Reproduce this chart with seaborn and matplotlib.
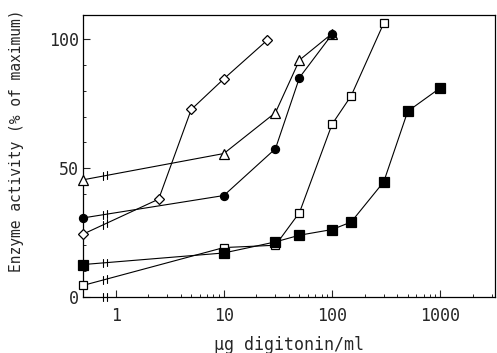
import numpy as np
import pandas as pd
import matplotlib
matplotlib.use("Agg")
import matplotlib.pyplot as plt
from matplotlib.ticker import FixedLocator, NullFormatter
import seaborn as sns

# ---- data (x = 0 means "no digitonin", drawn at the left edge) ----
diamond_x = [0, 2.5, 5, 10, 25]
diamond_y = [24.4, 38, 72.8, 84.7, 99.6]

triangle_x = [0, 10, 30, 50, 100]
triangle_y = [45.5, 55.7, 71.6, 92, 102.3]

circle_x = [0, 10, 30, 50, 100]
circle_y = [30.7, 39.4, 57.6, 85.2, 102]

osq_x = [0, 10, 30, 50, 100, 150, 300]
osq_y = [4.5, 19.2, 20.1, 32.8, 67.1, 78.1, 106.3]

fsq_x = [0, 10, 30, 50, 100, 150, 300, 500, 1000]
fsq_y = [12.6, 17.1, 21.4, 24.0, 26.2, 29.1, 44.7, 72.1, 81.2]

x_ticks = [1, 10, 100, 1000]
x_ticklabels = ["1", "10", "100", "1000"]
y_ticks = [0, 50, 100]
y_ticklabels = ["0", "50", "100"]

series = [
    ("diamond", diamond_x, diamond_y, "D", "white", 4.8),
    ("triangle", triangle_x, triangle_y, "^", "white", 6.5),
    ("circle", circle_x, circle_y, "o", "black", 5.8),
    ("open square", osq_x, osq_y, "s", "white", 6.2),
    ("filled square", fsq_x, fsq_y, "s", "black", 6.5),
]

X_ZERO = 0.5      # where x=0 is drawn
BREAKS = [0.76, 0.84]

sns.set_style("ticks")
mono = "DejaVu Sans Mono"
plt.rcParams["font.family"] = [mono, "DejaVu Sans"]

fig = plt.figure(figsize=(4.97, 3.53), dpi=100)
ax = fig.add_axes([0.167, 0.1586, 0.829, 0.799])
ax.set_xscale("log")
ax.set_xlim(X_ZERO, 3200)
ax.set_ylim(0, 109.5)

for name, xs, ys, mk, fc, ms in series:
    xd = [X_ZERO if v == 0 else v for v in xs]
    df = pd.DataFrame({"x": xd, "y": ys})
    sns.lineplot(data=df, x="x", y="y", ax=ax, sort=False, estimator=None,
                 color="black", lw=0.8, marker=mk, markersize=ms,
                 markerfacecolor=fc, markeredgecolor="black",
                 markeredgewidth=0.9, clip_on=False, zorder=3)
    # axis-break marks on the segment from the zero point
    lx0, lx1 = np.log10(xd[0]), np.log10(xd[1])
    for b in BREAKS:
        t = (np.log10(b) - lx0) / (lx1 - lx0)
        yb = ys[0] + t * (ys[1] - ys[0])
        ax.plot([b, b], [yb - 1.5, yb + 1.5], color="black", lw=0.8, zorder=4)

# breaks on the x axis
for b in BREAKS:
    ax.plot([b, b], [-1.5, 1.5], color="black", lw=0.8, clip_on=False, zorder=4)

ax.xaxis.set_major_locator(FixedLocator(x_ticks))
ax.set_xticklabels(x_ticklabels)
minors = [m * 10.0 ** e for e in range(0, 4) for m in range(2, 10)]
ax.xaxis.set_minor_locator(FixedLocator(minors))
ax.xaxis.set_minor_formatter(NullFormatter())
ax.yaxis.set_major_locator(FixedLocator(y_ticks))
ax.set_yticklabels(y_ticklabels)
ax.yaxis.set_minor_locator(FixedLocator(list(range(10, 110, 10))))

ax.tick_params(axis="both", which="major", direction="in", length=5, width=0.8,
               labelsize=12, top=False, right=False)
ax.tick_params(axis="both", which="minor", direction="in", length=2.5, width=0.7,
               top=False, right=False)
ax.tick_params(axis="x", which="major", pad=7)
ax.tick_params(axis="y", which="major", pad=3)

for s in ax.spines.values():
    s.set_linewidth(0.9)
    s.set_color("black")

ax.set_xlabel("µg digitonin/ml", fontsize=12, labelpad=8)
ax.set_ylabel("")
fig.text(17 / 497, 1 - 141 / 353, "Enzyme activity (% of maximum)",
         rotation=90, ha="center", va="center", fontsize=10.5)

fig.savefig("out.png", dpi=100)
